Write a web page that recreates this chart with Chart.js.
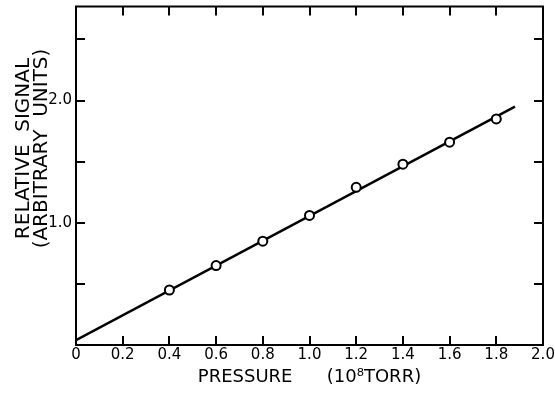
<!DOCTYPE html>
<html>
<head>
<meta charset="utf-8">
<script src="https://cdn.jsdelivr.net/npm/chart.js@4"></script>
<style>
  body { margin: 0; background: #fff; }
  canvas { display: block; }
</style>
</head>
<body>
<canvas id="signalChart" width="555" height="395"></canvas>
<script>
// measured points: pressure (10^-8 torr) and relative signal
var pressure = [0.4, 0.6, 0.8, 1.0, 1.2, 1.4, 1.6, 1.8];
var signal = [0.45, 0.65, 0.85, 1.06, 1.29, 1.48, 1.66, 1.85];

// ends of the fitted straight line
var fitX = [0, 1.88];
var fitY = [0.04, 1.95];

// axis ranges and tick spacing
var xRange = [0, 2.0];
var xStep = 0.2;
var yRange = [0, 2.77];
var yStep = 0.5;
var yLabelled = [1.0, 2.0];

var yTitle = ['RELATIVE  SIGNAL', '(ARBITRARY  UNITS)'];
var xTitle = 'PRESSURE      (10\u2078TORR)';

var points = [];
for (var i = 0; i < pressure.length; i++) {
    points.push({x: pressure[i], y: signal[i]});
}
var fitLine = [];
for (var i = 0; i < fitX.length; i++) {
    fitLine.push({x: fitX[i], y: fitY[i]});
}

// frame with inward tick marks on all four sides, plus the rotated y title
var framePlugin = {
    id: 'frame',
    afterDraw: function(chart) {
        var ctx = chart.ctx;
        var a = chart.chartArea;
        var xs = chart.scales.x;
        var ys = chart.scales.y;
        var len = 9;
        ctx.save();
        ctx.strokeStyle = '#000';
        ctx.lineWidth = 2;
        ctx.strokeRect(a.left, a.top, a.right - a.left, a.bottom - a.top);
        ctx.beginPath();
        xs.ticks.forEach(function(t) {
            var px = Math.round(xs.getPixelForValue(t.value));
            if (px <= a.left + 1 || px >= a.right - 1) return;
            ctx.moveTo(px, a.bottom); ctx.lineTo(px, a.bottom - len);
            ctx.moveTo(px, a.top); ctx.lineTo(px, a.top + len);
        });
        ys.ticks.forEach(function(t) {
            var py = Math.round(ys.getPixelForValue(t.value));
            if (py <= a.top + 1 || py >= a.bottom - 1) return;
            ctx.moveTo(a.left, py); ctx.lineTo(a.left + len, py);
            ctx.moveTo(a.right, py); ctx.lineTo(a.right - len, py);
        });
        ctx.stroke();

        ctx.fillStyle = '#000';
        ctx.font = '20px "DejaVu Sans"';
        ctx.textAlign = 'center';
        ctx.textBaseline = 'middle';
        ctx.translate(a.left - 52, a.top + 142);
        ctx.rotate(-Math.PI / 2);
        ctx.fillText(yTitle[0], 0, 0);
        ctx.fillText(yTitle[1], 0, 18);
        ctx.restore();
    }
};

new Chart(document.getElementById('signalChart'), {
    type: 'scatter',
    data: {
        datasets: [{
            label: 'Signal',
            data: points,
            pointRadius: 4.5,
            pointHoverRadius: 4.5,
            pointBackgroundColor: '#fff',
            pointBorderColor: '#000',
            pointBorderWidth: 2
        }, {
            label: 'Fit',
            data: fitLine,
            showLine: true,
            borderColor: '#000',
            borderWidth: 2.5,
            pointRadius: 0
        }]
    },
    options: {
        responsive: false,
        animation: false,
        layout: { padding: { top: 5, right: 12, left: 0, bottom: 0 } },
        plugins: {
            legend: { display: false },
            tooltip: { enabled: false }
        },
        scales: {
            x: {
                type: 'linear',
                min: xRange[0],
                max: xRange[1],
                grid: { display: false, drawTicks: false },
                border: { display: false },
                afterFit: function(scale) {
                    scale.height = 50;
                    scale.paddingLeft = 0;
                    scale.paddingRight = 0;
                },
                ticks: {
                    stepSize: xStep,
                    padding: 1,
                    color: '#000',
                    font: { family: 'DejaVu Sans', size: 15 },
                    callback: function(v) { return v === 0 ? '0' : v.toFixed(1); }
                },
                title: {
                    display: true,
                    text: xTitle,
                    color: '#000',
                    font: { family: 'DejaVu Sans', size: 18 },
                    padding: { top: 0, bottom: 7 }
                }
            },
            y: {
                type: 'linear',
                min: yRange[0],
                max: yRange[1],
                grid: { display: false, drawTicks: false },
                border: { display: false },
                afterFit: function(scale) {
                    scale.width = 76;
                    scale.paddingTop = 0;
                    scale.paddingBottom = 0;
                },
                afterBuildTicks: function(scale) {
                    scale.ticks = scale.ticks.filter(function(t) {
                        return Math.abs(t.value / yStep - Math.round(t.value / yStep)) < 1e-6;
                    });
                },
                ticks: {
                    stepSize: yStep,
                    padding: 4,
                    color: '#000',
                    font: { family: 'DejaVu Sans', size: 15 },
                    callback: function(v) {
                        return yLabelled.indexOf(v) >= 0 ? v.toFixed(1) : '';
                    }
                }
            }
        }
    },
    plugins: [framePlugin]
});
</script>
</body>
</html>
